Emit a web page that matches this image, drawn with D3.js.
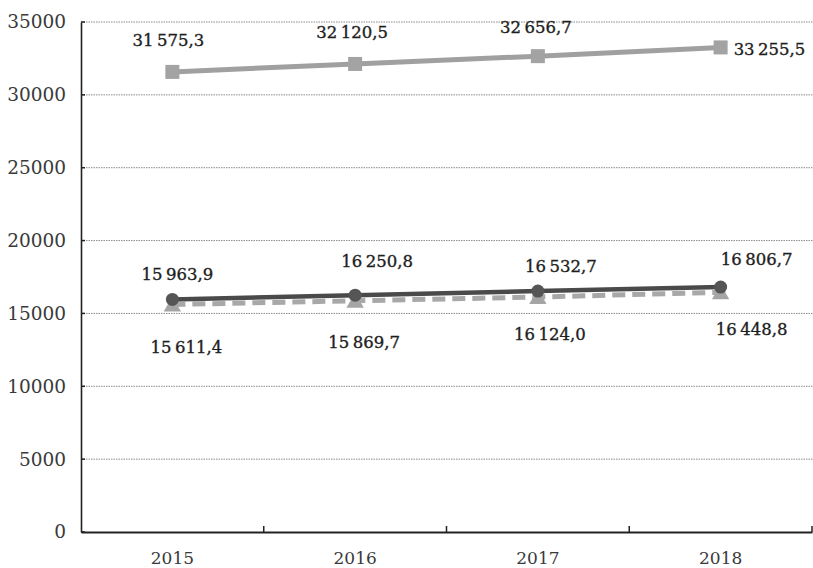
<!DOCTYPE html>
<html><head><meta charset="utf-8">
<script src="https://cdn.jsdelivr.net/npm/d3@7"></script>
<style>body{margin:0;background:#fff}svg{display:block}</style>
</head><body>
<svg id="c" width="813" height="568"></svg>
<script>
const years = ["2015","2016","2017","2018"];
const seriesTop = [31575.3, 32120.5, 32656.7, 33255.5];
const seriesMid = [15963.9, 16250.8, 16532.7, 16806.7];
const seriesLow = [15611.4, 15869.7, 16124.0, 16448.8];
const yTicks = [0,5000,10000,15000,20000,25000,30000,35000];

// label placement (pixel offsets from each point: [dx, dy])
const offTop = [[-4,-26],[-3,-26],[-2,-23],[13,8]];
const offMid = [[5,-19],[22,-28],[23,-19],[36,-22]];
const offLow = [[14,48],[9,47],[12,43],[31,43]];

const fmt = v => {
  const s = v.toFixed(1).replace(".", ",");
  const [i, d] = s.split(",");
  return i.replace(/\B(?=(\d{3})+(?!\d))/g, "\u2009") + "," + d;
};

const svg = d3.select("#c");
const m = {l:81, r:812, t:22, b:532};
const x = d3.scaleBand().domain(years).range([m.l, m.r]);
const y = d3.scaleLinear().domain([0,35000]).range([m.b, m.t]);
const cx = d => x(d) + x.bandwidth()/2;
const font = "'DejaVu Serif','Liberation Serif',serif";

// gridlines
svg.append("g").selectAll("line").data(yTicks.filter(t=>t>0)).join("line")
  .attr("x1", m.l).attr("x2", 813).attr("y1", d=>y(d)).attr("y2", d=>y(d))
  .attr("stroke", "#8a8a8a").attr("stroke-width", 1).attr("stroke-dasharray", "1.5,1");

// y axis
const ya = svg.append("g").attr("transform", `translate(${m.l},0)`)
  .call(d3.axisLeft(y).tickValues(yTicks).tickSize(0).tickPadding(15).tickFormat(d=>d));
ya.select(".domain").attr("stroke","#222").attr("stroke-width",1.6);
ya.selectAll("text").attr("font-family", font).attr("font-size", 18.5).attr("fill","#3a3a3a");
svg.append("g").selectAll("line").data(yTicks).join("line")
  .attr("x1", m.l).attr("x2", m.l+4).attr("y1", d=>y(d)).attr("y2", d=>y(d))
  .attr("stroke","#222").attr("stroke-width",1.5);

// x axis
const xa = svg.append("g").attr("transform", `translate(0,${m.b})`)
  .call(d3.axisBottom(x).tickSize(0).tickPadding(20));
xa.select(".domain").attr("stroke","#222").attr("stroke-width",1.8);
xa.selectAll("text").attr("font-family", font).attr("font-size", 17).attr("fill","#3a3a3a");
svg.append("g").selectAll("line").data(years.slice(1).concat(["end"])).join("line")
  .attr("x1", d => d==="end" ? m.r : x(d)).attr("x2", d => d==="end" ? m.r : x(d))
  .attr("y1", m.b).attr("y2", m.b-6).attr("stroke","#222").attr("stroke-width",1.5);

const line = d3.line().x((d,i)=>cx(years[i])).y(d=>y(d));

// low series (dashed, triangles)
svg.append("path").datum(seriesLow).attr("d", line).attr("fill","none")
  .attr("stroke","#a8a8a8").attr("stroke-width",5).attr("stroke-dasharray","13,7");
svg.append("g").selectAll("path").data(seriesLow).join("path")
  .attr("transform",(d,i)=>`translate(${cx(years[i])},${y(d)+2})`)
  .attr("d", d3.symbol(d3.symbolTriangle, 130)).attr("fill","#a5a5a5");

// mid series (dark line, circles)
svg.append("path").datum(seriesMid).attr("d", line).attr("fill","none")
  .attr("stroke","#4a4a4a").attr("stroke-width",4.5);
svg.append("g").selectAll("circle").data(seriesMid).join("circle")
  .attr("cx",(d,i)=>cx(years[i])).attr("cy",d=>y(d)).attr("r",6.5).attr("fill","#555");

// top series (gray, squares)
svg.append("path").datum(seriesTop).attr("d", line).attr("fill","none")
  .attr("stroke","#a0a0a0").attr("stroke-width",5);
svg.append("g").selectAll("rect").data(seriesTop).join("rect")
  .attr("x",(d,i)=>cx(years[i])-7).attr("y",d=>y(d)-7).attr("width",14).attr("height",14)
  .attr("fill","#a3a3a3");

// labels
const lab = (data, off, lastStart) => svg.append("g").selectAll("text").data(data).join("text")
  .attr("font-family", font).attr("font-size", 16.5).attr("fill","#1e1e1e")
  .attr("stroke","#1e1e1e").attr("stroke-width",0.35)
  .attr("x",(d,i)=>cx(years[i]) + off[i][0])
  .attr("y",(d,i)=>y(d) + off[i][1])
  .attr("text-anchor",(d,i)=> (lastStart && i===data.length-1) ? "start" : "middle")
  .text(d=>fmt(d));

lab(seriesTop, offTop, true);
lab(seriesMid, offMid, false);
lab(seriesLow, offLow, false);
</script>
</body></html>
